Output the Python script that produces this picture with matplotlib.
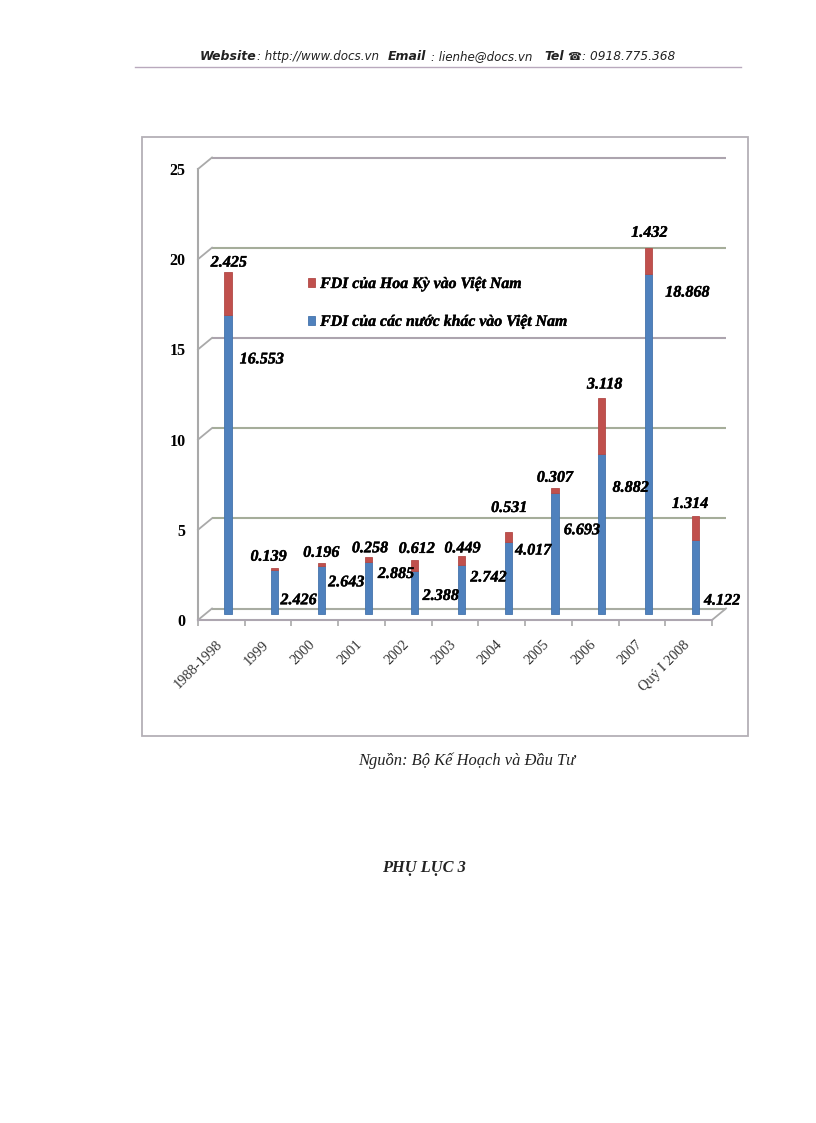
import matplotlib
matplotlib.use("Agg")
import matplotlib.pyplot as plt
import matplotlib.patheffects as pe
from matplotlib.patches import Rectangle
from matplotlib.lines import Line2D
from matplotlib.transforms import ScaledTranslation

categories = ["1988-1998", "1999", "2000", "2001", "2002", "2003", "2004",
              "2005", "2006", "2007", "Quý I 2008"]
others_fdi = [16.553, 2.426, 2.643, 2.885, 2.388, 2.742, 4.017, 6.693, 8.882, 18.868, 4.122]
us_fdi = [2.425, 0.139, 0.196, 0.258, 0.612, 0.449, 0.531, 0.307, 3.118, 1.432, 1.314]
y_ticks = [0, 5, 10, 15, 20, 25]
legend_us = "FDI của Hoa Kỳ vào Việt Nam"
legend_others = "FDI của các nước khác vào Việt Nam"

# label offsets from the bar segment top, in pixels
us_offsets = [(1, 9), (-6, 11), (0, 10), (2, 9), (2, 11), (1, 8), (1, 24), (0, 10), (3, 13), (1, 15), (-5, 12)]
others_offsets = [(34, -44), (24, -30), (25, -16), (28, -12), (26, -25), (27, -13),
                  (25, -9), (27, -37), (29, -34), (39, -19), (27, -61)]

W, H = 816, 1123
SERIF = "Liberation Serif"
GREY = "#a9a9a9"
fig = plt.figure(figsize=(W / 100, H / 100), dpi=100, facecolor="white")
heavy = [pe.withStroke(linewidth=0.3, foreground="black")]


def fx(px):
    return px / W


def fy(py):
    return 1 - py / H


def page_text(px, py, s, **kw):
    fig.text(fx(px), fy(py), s, va="center", **kw)


# chart frame and page header rule
fig.add_artist(Rectangle((fx(142), fy(736)), fx(748) - fx(142), fy(137) - fy(736),
                         transform=fig.transFigure, fc="none", ec="#b4b0b6", lw=1.3, zorder=-1))
fig.add_artist(Line2D([fx(135), fx(741)], [fy(66.5), fy(66.5)], color="#b9a9bd", lw=1.0, zorder=-1))

# header
hdr = dict(family="DejaVu Sans", style="italic", color="#222222")
page_text(200, 56.5, "Website", fontweight="bold", fontsize=9.0, **hdr)
page_text(257, 56.5, ": http://www.docs.vn", fontsize=8.6, **hdr)
page_text(388, 56.5, "Email", fontweight="bold", fontsize=9.0, **hdr)
page_text(431, 56.5, ": lienhe@docs.vn", fontsize=8.6, **hdr)
page_text(544, 56.5, "Tel", fontweight="bold", fontsize=9.0, **hdr)
page_text(567, 56.5, "☎", family="DejaVu Sans", fontsize=8, fontweight="bold", color="#222222")
page_text(582, 56.5, ": 0918.775.368", fontsize=8.7, **hdr)

# footer texts
page_text(467, 760.5, "Nguồn: Bộ Kế Hoạch và Đầu Tư", family=SERIF, style="italic",
          fontsize=11.9, ha="center", color="#222222")
page_text(424, 868.5, "PHỤ LỤC 3", family=SERIF, style="italic", fontweight="bold",
          fontsize=11.8, ha="center", color="#222222")

# plot area: front floor edge and front left axis
ax = fig.add_axes([fx(198), fy(620), fx(712) - fx(198), fy(169) - fy(620)])
ax.patch.set_alpha(0)
n = len(categories)
ax.set_xlim(-0.5, n - 0.5)
ax.set_ylim(0, 25)

DEPTH_X = 14 / 46.7
DEPTH_Y = 11.5 / 18.04
grid_colors = ["#a8aca2", "#a5ad9a", "#a5ad9a", "#aca4ae", "#a5ad9a", "#aca4ae"]
for v, c in zip(y_ticks, grid_colors):
    ax.plot([-0.5 + DEPTH_X, n - 0.5 + DEPTH_X], [v + DEPTH_Y] * 2, color=c, lw=1.5,
            clip_on=False, zorder=1, solid_capstyle="butt")
    ax.plot([-0.5, -0.5 + DEPTH_X], [v, v + DEPTH_Y], color=GREY, lw=1.3,
            clip_on=False, zorder=1)
ax.plot([n - 0.5, n - 0.5 + DEPTH_X], [0, DEPTH_Y], color=GREY, lw=1.3, clip_on=False, zorder=1)

# bars sit midway through the floor depth
bar_tf = ax.transData + ScaledTranslation(6.6 / 100, 6 / 100, fig.dpi_scale_trans)
xs = list(range(n))
blue_bars = ax.bar(xs, others_fdi, width=0.155, color="#4F81BD", edgecolor="#4473ab", lw=0.6,
                   transform=bar_tf, zorder=3, clip_on=False, label=legend_others)
red_bars = ax.bar(xs, us_fdi, bottom=others_fdi, width=0.155, color="#C0504D", edgecolor="#b24a47",
                  lw=0.6, transform=bar_tf, zorder=3, clip_on=False, label=legend_us)

lab = dict(family=SERIF, style="italic", fontweight="bold", fontsize=11.6, color="black",
           ha="center", va="center", textcoords="offset pixels", zorder=5,
           annotation_clip=False, path_effects=heavy)
for i in xs:
    ax.annotate(f"{us_fdi[i]:.3f}", xy=(i, others_fdi[i] + us_fdi[i]), xycoords=bar_tf,
                xytext=us_offsets[i], **lab)
    ax.annotate(f"{others_fdi[i]:.3f}", xy=(i, others_fdi[i]), xycoords=bar_tf,
                xytext=others_offsets[i], **lab)

# axes
for s in ("top", "right"):
    ax.spines[s].set_visible(False)
for s in ("left", "bottom"):
    ax.spines[s].set_color(GREY)
    ax.spines[s].set_linewidth(1.5)
ax.spines["bottom"].set_color("#ada6b0")
ax.set_yticks(y_ticks)
ax.set_yticklabels([str(v) for v in y_ticks], family=SERIF, fontweight="bold", fontsize=11.5, color="black")
ax.tick_params(axis="y", length=0, pad=9)
ax.set_xticks(xs)
ax.set_xticklabels(categories, family=SERIF, fontsize=10.4, color="#333333",
                   rotation=45, ha="right", va="top", rotation_mode="anchor")
ax.tick_params(axis="x", which="major", length=0, pad=13)
shift = ScaledTranslation(-0.06, 0, fig.dpi_scale_trans)
for t in ax.get_xticklabels():
    t.set_transform(t.get_transform() + shift)
ax.set_xticks([i - 0.5 for i in range(n + 1)], minor=True)
ax.tick_params(axis="x", which="minor", length=4, width=1.2, color=GREY)

# legend
leg = ax.legend(handles=[red_bars, blue_bars], labels=[legend_us, legend_others],
                loc="upper left", bbox_to_anchor=(fx(307.5), fy(276)), bbox_transform=fig.transFigure,
                frameon=False, handlelength=0.45, handleheight=0.5, handletextpad=0.35,
                labelspacing=1.38, borderpad=0, borderaxespad=0,
                prop=dict(family=SERIF, style="italic", weight="bold", size=11.4))
for t in leg.get_texts():
    t.set_path_effects(heavy)

fig.savefig("out.png", dpi=100, facecolor="white")
